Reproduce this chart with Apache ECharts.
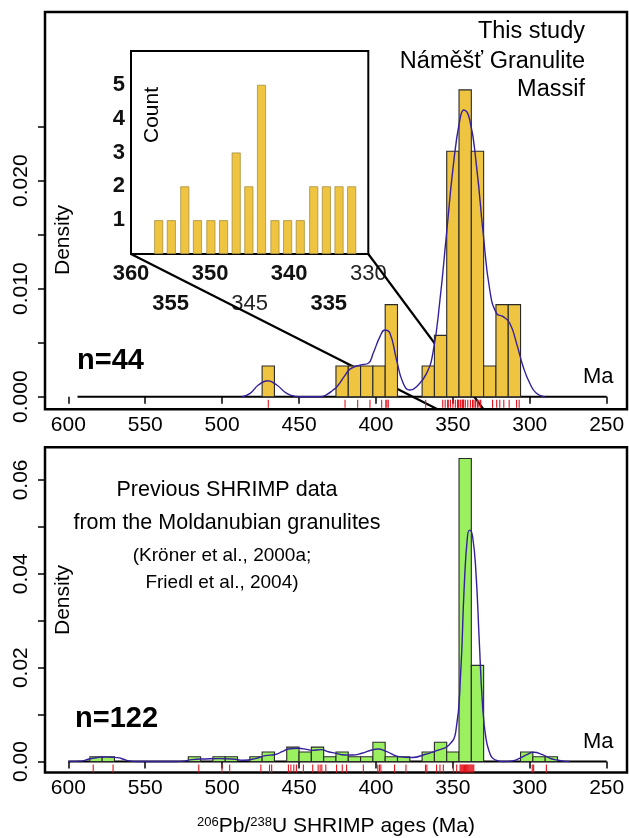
<!DOCTYPE html>
<html>
<head>
<meta charset="utf-8">
<script src="https://cdn.jsdelivr.net/npm/echarts@6/dist/echarts.min.js"></script>
<style>
  html, body { margin: 0; padding: 0; background: #fff; }
  #chart { width: 629px; height: 838px; }
</style>
</head>
<body>
<div id="chart"></div>
<script>
// ---- Zircon U-Pb age data (Ma) ----
const BIN_WIDTH = 8;

// This study: histogram bins (older edge of each 8 Ma bin) and counts
const studyBins   = [474, 426, 418, 410, 402, 394, 370, 362, 354, 346, 338, 330, 322, 314];
const studyCounts = [1, 1, 1, 1, 1, 3, 1, 2, 8, 10, 8, 1, 3, 3];
const studyN = 44;

// This study: individual spot ages (rug)
const studyAges = [470.0, 420.1, 411.9, 403.9, 396.3, 393.6, 392.9, 392.0, 367.7,
  356.6, 355.0, 353.4, 353.0, 351.6, 350.0, 348.4, 347.0, 346.7, 346.4,
  345.3, 344.9, 343.9, 343.6, 343.4, 343.2, 343.0, 341.9, 340.3, 338.6,
  337.2, 336.8, 335.6, 335.2, 334.0, 333.6, 332.3, 331.9,
  324.2, 321.5, 319.5, 316.9, 313.4, 308.6, 306.9];

// This study: kernel density curve [age, density]
const studyKdeAge = [487.2, 481.8, 476.4, 470.4, 464.5, 458.0, 452.0, 449.4, 436.0, 432.0, 428.0, 425.5, 420.0,
  416.9, 410.4, 405.0, 401.8, 397.4, 394.2, 390.9, 386.6, 382.3, 377.9, 373.6, 367.1, 362.8, 358.4,
  354.1, 349.8, 345.5, 342.9, 339.0, 334.6, 330.3, 326.0, 321.6, 317.3, 313.0, 308.6, 304.3, 300.0,
  295.7, 290.3];
const studyKdeDen = [0, 0.00031, 0.00108, 0.00148, 0.00108, 0.00031, 0.00003, 0, 0, 0.0002, 0.0006, 0.0009, 0.0020,
  0.00255, 0.00293, 0.0031, 0.00402, 0.00556, 0.00617, 0.00587, 0.0034, 0.00124, 0.00062, 0.00093, 0.00216, 0.0042, 0.00895,
  0.01513, 0.0213, 0.02562, 0.02654, 0.02562, 0.0213, 0.01513, 0.00988, 0.00772, 0.00741, 0.0068, 0.00494, 0.00278, 0.00124,
  0.00031, 0];

// Inset: 360-330 Ma detail, bar centres and counts
const insetAges   = [356.5, 354.9, 353.2, 351.6, 349.9, 348.3, 346.7, 345.1, 343.5, 341.8, 340.2, 338.6, 336.9, 335.3, 333.7, 332.1];
const insetCounts = [1, 1, 2, 1, 1, 1, 3, 2, 5, 1, 1, 1, 2, 2, 2, 2];

// Previous SHRIMP data: histogram bins and counts
const prevBins   = [586, 578, 522, 506, 498, 482, 474, 458, 450, 442, 434, 426, 418, 410, 402, 394, 386,
  370, 362, 354, 346, 338, 306, 298, 290];
const prevCounts = [1, 1, 1, 1, 1, 1, 2, 3, 2, 3, 1, 2, 1, 1, 4, 1, 1, 2, 4, 2, 63, 20, 2, 1, 1];
const prevN = 122;

// Previous SHRIMP data: spot ages (rug)
const prevAges = [583.8, 570.9, 515.2, 500.1, 495.1, 474.8, 469.2, 467.8, 456.9, 455.3, 453.4, 451.7,
  447.2, 441.1, 437.6, 436.3, 435.2, 432.6, 425.6, 421.9, 419.1, 408.2, 398.8, 397.7, 396.8,
  387.9, 380.5, 367.8, 366.9, 360.6, 358.4, 356.2, 349.7, 347.5, 345.3,
  344.8, 344.2, 343.6, 343.0, 342.4, 341.8, 341.2, 340.6, 340.0, 339.4, 338.8, 338.2, 337.6, 337.0, 336.4,
  298.4, 297.5, 289.2];

// Previous SHRIMP data: kernel density curve
const prevKdeAge = [600, 592, 586.4, 580, 577.8, 572, 568.1, 564, 560.5, 555, 530, 525, 519.5, 510.8, 502.2,
  493.6, 486, 478.4, 472, 465.5, 461, 456.9, 450.4, 445, 441.7, 435.3, 431, 426.6, 420.2, 415,
  409.3, 402.7, 398.8, 392.9, 385.3, 376.5, 367.8, 359.1, 352.5, 348.1, 344.9, 342.7, 340.5, 339.0,
  337.2, 335.0, 332.9, 330.7, 328.5, 326.0, 324.1, 320.0, 317.6, 312.0, 308.8, 302.3, 297.5, 291.4,
  286.0, 282.6, 278.0, 274.0];
const prevKdeDen = [0, 0.0001, 0.00055, 0.0009, 0.00098, 0.0009, 0.00084, 0.0005, 0.00014, 0, 0, 0.0001, 0.00042, 0.00056, 0.00063,
  0.00056, 0.00028, 0.00063, 0.00127, 0.0015, 0.0021, 0.00268, 0.00282, 0.0026, 0.00239, 0.00254, 0.0021, 0.0018, 0.0014, 0.0014,
  0.00177, 0.00247, 0.00268, 0.00212, 0.00106, 0.00085, 0.00155, 0.00247, 0.00353, 0.00636, 0.0191, 0.0367, 0.048, 0.0493,
  0.048, 0.0403, 0.0261, 0.012, 0.00494, 0.0018, 0.00071, 0.0001, 0, 0.0001, 0.00035, 0.00141, 0.00198, 0.00141,
  0.0006, 0.00035, 0.0001, 0];

// Axis ticks and labels
const ageTicks     = [600, 550, 500, 450, 400, 350, 300, 250];
const topDenTicks  = [0, 0.005, 0.010, 0.015, 0.020, 0.025];
const topDenLabels = [0, 0.010, 0.020];
const botDenTicks  = [0, 0.01, 0.02, 0.03, 0.04, 0.05, 0.06];
const botDenLabels = [0, 0.02, 0.04, 0.06];
const insetCountLabels = [1, 2, 3, 4, 5];
const insetAgeRow1 = [360, 350, 340, 330];
const insetAgeRow2 = [355, 345, 335];
const insetAgeTicks = [355, 350, 345, 340, 335];
const insetTopTicks = [357.5, 355, 352.5, 350, 347.5, 345, 342.5, 340, 337.5, 335, 332.5];

// ---- Styling ----
const FONT = '"Liberation Sans", Arial, Helvetica, sans-serif';
const GOLD = '#EEC440';
const GREEN = '#9BF060';
const CURVE = '#34209C';
const RUG = '#E3141E';
const X_RANGE = [236.8, 615.15];

const chart = echarts.init(document.getElementById('chart'));

function pairs(xs, ys) { return xs.map((x, i) => [x, ys[i]]); }

function histSeries(xi, yi, bins, counts, n, fill) {
  return {
    type: 'custom', xAxisIndex: xi, yAxisIndex: yi, z: 3,
    data: pairs(bins, counts),
    renderItem(params, api) {
      const upper = api.value(0);
      const dens = api.value(1) / (n * BIN_WIDTH);
      const a = api.coord([upper, dens]);
      const b = api.coord([upper - BIN_WIDTH, 0]);
      return {
        type: 'rect',
        shape: { x: Math.min(a[0], b[0]), y: a[1], width: Math.abs(b[0] - a[0]), height: b[1] - a[1] },
        style: { fill: fill, stroke: '#2a2a2a', lineWidth: 1.1 }
      };
    }
  };
}

function rugSeries(xi, yi, ages) {
  return {
    type: 'custom', xAxisIndex: xi, yAxisIndex: yi, z: 3,
    data: ages.map(a => [a, 0]),
    renderItem(params, api) {
      const p = api.coord([api.value(0), 0]);
      return {
        type: 'line',
        shape: { x1: p[0], y1: p[1] + 3, x2: p[0], y2: p[1] + 11 },
        style: { stroke: RUG, lineWidth: 1.1 }
      };
    }
  };
}

function baseline(xi, yi, from) {
  return {
    type: 'line', xAxisIndex: xi, yAxisIndex: yi, z: 1,
    data: [[from, 0], [250, 0]], symbol: 'none', silent: true,
    lineStyle: { color: '#000', width: 2 }
  };
}

function kde(xi, yi, xs, ys) {
  return {
    type: 'line', xAxisIndex: xi, yAxisIndex: yi, z: 4,
    data: pairs(xs, ys), symbol: 'none', smooth: 0.5, silent: true,
    lineStyle: { color: CURVE, width: 1.4 }
  };
}

function mainAgeAxis(gridIndex, extra) {
  return Object.assign({
    gridIndex, type: 'value', inverse: true, min: X_RANGE[0], max: X_RANGE[1],
    axisLine: { show: false },
    splitLine: { show: false },
    axisTick: { customValues: ageTicks, length: 7, lineStyle: { color: '#000', width: 1.5 } },
    axisLabel: { customValues: ageTicks, color: '#000', fontSize: 21, fontFamily: FONT, margin: 5 }
  }, extra || {});
}

function densityAxis(gridIndex, range, ticks, labels, digits) {
  return {
    gridIndex, type: 'value', min: range[0], max: range[1],
    axisLine: { show: false },
    splitLine: { show: false },
    axisTick: { customValues: ticks, length: 7, lineStyle: { color: '#000', width: 1.5 } },
    axisLabel: {
      customValues: labels, rotate: 90, margin: 13, color: '#000',
      fontSize: 21, fontFamily: FONT, formatter: v => v.toFixed(digits)
    }
  };
}

const insetLabelRich = {
  b: { fontSize: 22, fontWeight: 'bold', fontFamily: FONT, color: '#111' },
  n: { fontSize: 22, fontWeight: 'normal', fontFamily: FONT, color: '#222' }
};
const insetLabelFmt = v => (v === 330 || v === 345) ? '{n|' + v + '}' : '{b|' + v + '}';

const option = {
  animation: false,
  backgroundColor: '#fff',
  grid: [
    { left: 45, top: 12, width: 582, height: 397.3, show: true, borderColor: '#000', borderWidth: 2.5, backgroundColor: 'transparent' },
    { left: 131, top: 51, width: 237.3, height: 203, show: true, borderColor: '#000', borderWidth: 2, backgroundColor: '#fff', z: 2 },
    { left: 45, top: 447.3, width: 582, height: 327, show: true, borderColor: '#000', borderWidth: 2.5, backgroundColor: 'transparent' }
  ],
  xAxis: [
    mainAgeAxis(0),
    {
      gridIndex: 1, type: 'value', inverse: true, min: 330, max: 360, position: 'bottom',
      axisLine: { show: false }, splitLine: { show: false },
      axisTick: { inside: true, customValues: insetAgeTicks, length: 6, lineStyle: { color: '#000', width: 2 } },
      axisLabel: { customValues: insetAgeRow1, margin: 9, formatter: insetLabelFmt, rich: insetLabelRich }
    },
    {
      gridIndex: 1, type: 'value', inverse: true, min: 330, max: 360, position: 'bottom', offset: 30,
      axisLine: { show: false }, splitLine: { show: false }, axisTick: { show: false },
      axisLabel: { customValues: insetAgeRow2, margin: 9, formatter: insetLabelFmt, rich: insetLabelRich }
    },
    {
      gridIndex: 1, type: 'value', inverse: true, min: 330, max: 360, position: 'top',
      axisLine: { show: false }, splitLine: { show: false }, axisLabel: { show: false },
      axisTick: { inside: true, customValues: insetTopTicks, length: 4, lineStyle: { color: '#000', width: 1.5 } }
    },
    mainAgeAxis(2, {
      name: '{s|206}Pb/{s|238}U SHRIMP ages (Ma)',
      nameLocation: 'middle', nameGap: 43,
      nameTextStyle: {
        color: '#000', fontSize: 21, fontFamily: FONT,
        rich: { s: { fontSize: 13, fontFamily: FONT, color: '#000', verticalAlign: 'bottom', padding: [0, 0, 9, 0] } }
      }
    })
  ],
  yAxis: [
    densityAxis(0, [-0.001167, 0.03562], topDenTicks, topDenLabels, 3),
    {
      gridIndex: 1, type: 'value', min: 0, max: 6, position: 'left',
      axisLine: { show: false }, splitLine: { show: false },
      axisTick: { inside: true, customValues: insetCountLabels, length: 5, lineStyle: { color: '#000', width: 1.5 } },
      axisLabel: { customValues: insetCountLabels, margin: 6, color: '#111', fontSize: 22, fontWeight: 'bold', fontFamily: FONT }
    },
    {
      gridIndex: 1, type: 'value', min: 0, max: 6, position: 'right',
      axisLine: { show: false }, splitLine: { show: false }, axisLabel: { show: false },
      axisTick: { inside: true, customValues: insetCountLabels, length: 5, lineStyle: { color: '#000', width: 1.5 } }
    },
    densityAxis(2, [-0.0023305, 0.066949], botDenTicks, botDenLabels, 2)
  ],
  series: [
    // upper panel: this study
    baseline(0, 0, 594),
    histSeries(0, 0, studyBins, studyCounts, studyN, GOLD),
    kde(0, 0, studyKdeAge, studyKdeDen),
    rugSeries(0, 0, studyAges),
    // inset counts
    {
      type: 'bar', xAxisIndex: 1, yAxisIndex: 1, z: 3,
      data: pairs(insetAges, insetCounts), barWidth: 9,
      itemStyle: { color: GOLD, borderColor: '#a8903f', borderWidth: 0.8 }
    },
    // lower panel: previous SHRIMP data
    baseline(4, 3, 600),
    histSeries(4, 3, prevBins, prevCounts, prevN, GREEN),
    kde(4, 3, prevKdeAge, prevKdeDen),
    rugSeries(4, 3, prevAges)
  ]
};

chart.setOption(option);

// Text annotations
function label(text, x, y, size, opts) {
  opts = opts || {};
  return {
    type: 'text', x: x, y: y, rotation: opts.rotation || 0, z: 10,
    style: {
      text: text, font: (opts.weight || 'normal') + ' ' + size + 'px ' + FONT,
      fill: opts.color || '#000',
      align: opts.align || 'center', textAlign: opts.align || 'center',
      verticalAlign: 'middle', textVerticalAlign: 'middle'
    }
  };
}

const texts = [
  label('This study', 585, 32, 23.5, { align: 'right' }),
  label('Náměšť Granulite', 585, 62, 23.5, { align: 'right' }),
  label('Massif', 585, 90, 23.5, { align: 'right' }),
  label('n=44', 77, 361, 29, { align: 'left', weight: 'bold' }),
  label('Ma', 583, 377, 22, { align: 'left' }),
  label('Density', 63, 240, 21, { rotation: Math.PI / 2 }),
  label('Count', 152, 115, 21, { rotation: Math.PI / 2 }),
  label('Previous SHRIMP data', 227, 490, 21.5),
  label('from the Moldanubian granulites', 227, 523, 21.5),
  label('(Kröner et al., 2000a;', 222, 556, 19),
  label('Friedl et al., 2004)', 222, 583, 19),
  label('n=122', 75, 719, 29, { align: 'left', weight: 'bold' }),
  label('Ma', 583, 742, 22, { align: 'left' }),
  label('Density', 63, 600, 21, { rotation: Math.PI / 2 })
];

// Zoom connectors: inset 360/330 Ma corners down to the same ages on the main axis
const insetIdx = 4, mainIdx = 1;
const iL = chart.convertToPixel({ seriesIndex: insetIdx }, [360, 0]);
const iR = chart.convertToPixel({ seriesIndex: insetIdx }, [330, 0]);
const mL = chart.convertToPixel({ seriesIndex: mainIdx }, [360, -0.001167]);
const mR = chart.convertToPixel({ seriesIndex: mainIdx }, [330, -0.001167]);
const connectors = [[iL, mL], [iR, mR]].map(([p, q]) => ({
  type: 'line', z: 1.5, silent: true,
  shape: { x1: p[0], y1: p[1], x2: q[0], y2: q[1] },
  style: { stroke: '#000', lineWidth: 2.2 }
}));

chart.setOption({ graphic: { elements: texts.concat(connectors) } });
</script>
</body>
</html>
